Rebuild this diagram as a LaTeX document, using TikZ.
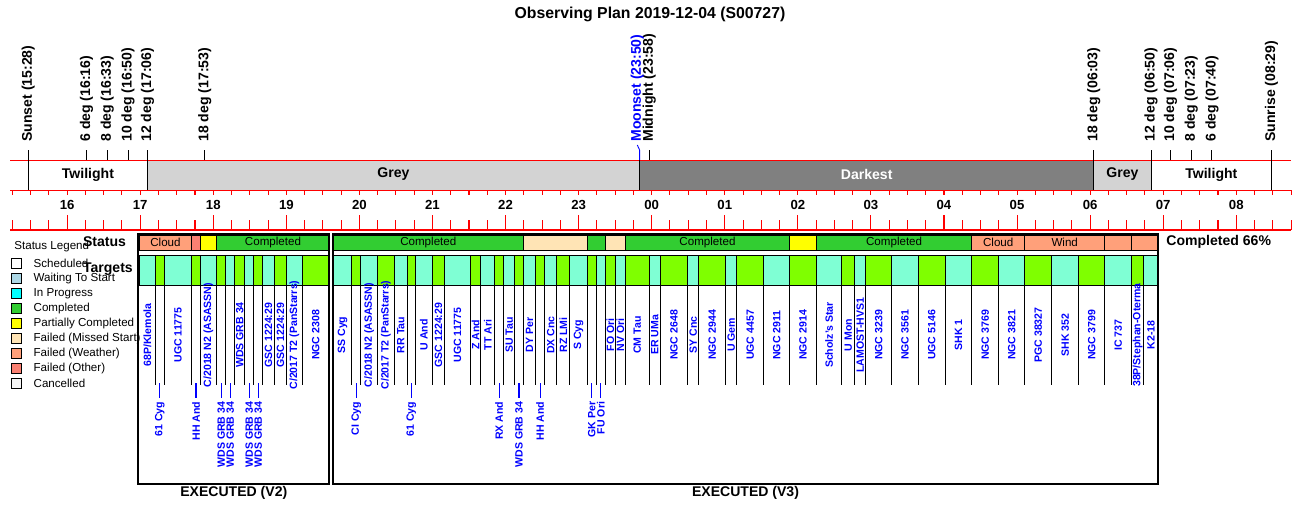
\documentclass[tikz,border=0pt]{standalone}
\usepackage{fontspec}
\usepackage{tikz}
\setmainfont{Liberation Sans}
\definecolor{greyband}{HTML}{D3D3D3}
\definecolor{darkband}{HTML}{808080}
\definecolor{stdone}{HTML}{32CD32}
\definecolor{stpart}{HTML}{FFFF00}
\definecolor{stmiss}{HTML}{FFE4B5}
\definecolor{stwx}{HTML}{FFA07A}
\definecolor{stoth}{HTML}{FA8072}
\definecolor{stwait}{HTML}{ADD8E6}
\definecolor{stprog}{HTML}{00FFFF}
\definecolor{stcanc}{HTML}{F5F5F5}
\definecolor{tgtaqua}{HTML}{7FFFD4}
\definecolor{tgtlime}{HTML}{7FFF00}
\tikzset{plantitle/.style = {inner sep=0pt, font=\bfseries\fontsize{9}{11}\selectfont}}
\tikzset{evlabel/.style = {rotate=90, anchor=west, inner sep=0pt,
                           font=\bfseries\fontsize{8}{9}\selectfont}}
\tikzset{bandlabel/.style = {inner sep=0pt, font=\bfseries\fontsize{8}{9}\selectfont}}
\tikzset{hourlabel/.style = {inner sep=0pt, font=\bfseries\fontsize{7.5}{9}\selectfont}}
\tikzset{rowhead/.style = {anchor=west, inner sep=0pt,
                           font=\bfseries\fontsize{8}{9}\selectfont}}
\tikzset{smalltext/.style = {inner sep=0pt, font=\fontsize{6.6}{8}\selectfont}}
\tikzset{tgtlabel/.style = {rotate=90, inner sep=0pt, blue,
                            font=\bfseries\fontsize{6}{7}\selectfont}}
\tikzset{redline/.style = {red, line width=0.6pt}}
\tikzset{thinline/.style = {black, line width=0.5pt}}
\tikzset{frameline/.style = {black, line width=1.3pt}}
\begin{document}
\begin{tikzpicture}[x=0.02cm, y=-0.02cm]
    \useasboundingbox (0, 0) rectangle (1300, 514);
    \node (title) at (650, 14.5) [plantitle] {Observing Plan 2019-12-04 (S00727)};
    \fill [greyband] (147.5, 160.3) rectangle (639.6, 190.3);
    \fill [darkband] (639.6, 160.3) rectangle (1093.8, 190.3);
    \fill [greyband] (1093.8, 160.3) rectangle (1151.0, 190.3);
    \node (twilight1) at (87.9, 174.5) [bandlabel] {Twilight};
    \node (grey1) at (393.5, 174.5) [bandlabel] {Grey};
    \node (darkest) at (866.7, 174.5) [bandlabel, white] {Darkest};
    \node (grey2) at (1122.4, 174.5) [bandlabel] {Grey};
    \node (twilight2) at (1211.3, 174.5) [bandlabel] {Twilight};
    \foreach \y in {160.3, 190.3, 230} {
        \draw [redline] (10, \y) -- (1291, \y);
    }
    \foreach \q in {61, ..., 131} {
        \pgfmathsetmacro{\qx}{18.2675*\q-1102}
        \pgfmathsetmacro{\qy}{mod(\q, 4) == 0 ? 215 : 220}
        \draw [redline] (\qx, 190.3) -- (\qx, 195.3);
        \draw [redline] (\qx, \qy) -- (\qx, 230);
    }
    \foreach \h/\lab in {16/16, 17/17, 18/18, 19/19, 20/20, 21/21, 22/22, 23/23, 24/00,
                         25/01, 26/02, 27/03, 28/04, 29/05, 30/06, 31/07, 32/08} {
        \node (hour\h) at ({73.07*\h-1102}, 204.5) [hourlabel] {\lab};
    }
    \foreach \t/\lab/\lo [count=\i] in {15.467/Sunset (15:28)/190.3, 16.267/6 deg (16:16)/160.3,
                                        16.55/8 deg (16:33)/160.3, 16.833/10 deg (16:50)/160.3,
                                        17.1/12 deg (17:06)/190.3, 17.883/18 deg (17:53)/160.3,
                                        23.967/Midnight (23:58)/160.3, 30.05/18 deg (06:03)/190.3,
                                        30.833/12 deg (06:50)/190.3, 31.1/10 deg (07:06)/160.3,
                                        31.383/8 deg (07:23)/160.3, 31.667/6 deg (07:40)/160.3,
                                        32.483/Sunrise (08:29)/190.3} {
        \draw [thinline] ({73.07*\t-1102}, 150) -- ({73.07*\t-1102}, \lo);
        \node (event\i) at ({73.07*\t-1102}, 142) [evlabel] {\lab};
    }
    \draw [blue, line width=0.5pt] (637.3, 145) -- (639.6, 150) -- (639.6, 160.3);
    \draw [thinline] (639.6, 160.3) -- (639.6, 190.3);
    \node (moonset) at (637.3, 142) [evlabel, blue] {Moonset (23:50)};
    \node (legendhead) at (14, 246) [smalltext, anchor=west] {Status Legend};
    \foreach \col/\lab [count=\i] in {white/Scheduled, stwait/Waiting To Start, stprog/In Progress,
                                      stdone/Completed, stpart/Partially Completed,
                                      stmiss/Failed (Missed Start), stwx/Failed (Weather),
                                      stoth/Failed (Other), stcanc/Cancelled} {
        \draw [thinline, fill=\col] (11.7, {243.3+15*\i}) rectangle (21.7, {253.3+15*\i});
        \node (legend\i) at (33.3, {248.3+15*\i}) [smalltext, anchor=west] {\lab};
    }
    \node (statushead) at (82.7, 241.7) [rowhead] {Status};
    \node (targethead) at (82.7, 269.3) [rowhead] {Targets};
    \foreach \a/\b/\col/\lab [count=\i] in {139.3/191.7/stwx/Cloud, 191.7/200.3/stoth/{},
                                            200.3/216.7/stpart/{}, 216.7/329.3/stdone/Completed,
                                            333.3/523.3/stdone/Completed, 523.3/587.3/stmiss/{},
                                            587.3/605.3/stdone/{}, 605.3/625.3/stmiss/{},
                                            625.3/789.7/stdone/Completed, 789.7/816.5/stpart/{},
                                            816.5/971.7/stdone/Completed, 971.7/1024.7/stwx/Cloud,
                                            1024.7/1104.7/stwx/Wind, 1104.7/1131.7/stwx/{},
                                            1131.7/1158.3/stwx/{}} {
        \draw [thinline, fill=\col] (\a, 235.3) rectangle (\b, 250.3);
        \node (status\i) at ({(\a+\b)/2}, 242.8) [smalltext] {\lab};
    }
    \foreach \a/\b/\lab/\low [count=\i] in {139.3/155.3/{68P/Klemola}/0, 155.3/164.3/61 Cyg/1,
            164.3/191.7/UGC 11775/0, 191.7/200.3/HH And/1, 200.3/216.7/{C/2018 N2 (ASASSN)}/0,
            216.7/225.7/WDS GRB 34/1, 225.7/234.7/WDS GRB 34/1, 234.7/244.7/WDS GRB 34/0,
            244.7/253.7/WDS GRB 34/1, 253.7/262.7/WDS GRB 34/1, 262.7/274.3/GSC 1224:29/0,
            274.3/286.7/GSC 1224:29/0, 286.7/302.3/{C/2017 T2 (PanStarrs)}/0, 302.3/329.3/NGC 2308/0,
            333.3/351.7/SS Cyg/0, 351.7/360.7/CI Cyg/1, 360.7/377.7/{C/2018 N2 (ASASSN)}/0,
            377.7/394.3/{C/2017 T2 (PanStarrs)}/0, 394.3/407.3/RR Tau/0, 407.3/415.3/61 Cyg/1,
            415.3/432.3/U And/0, 432.3/444.7/GSC 1224:29/0, 444.7/470.3/UGC 11775/0,
            470.3/480.7/Z And/0, 480.7/494.7/TT Ari/0, 494.7/503.7/RX And/1, 503.7/514.7/SU Tau/0,
            514.7/523.3/WDS GRB 34/1, 523.3/535.7/DY Per/0, 535.7/544.7/HH And/1,
            544.7/556.7/DX Cnc/0, 556.7/569.7/RZ LMi/0, 569.7/587.3/S Cyg/0, 587.3/596.3/GK Per/1,
            596.3/605.3/FU Ori/1, 605.3/615.3/FO Ori/0, 615.3/625.3/NV Ori/0, 625.3/649.3/CM Tau/0,
            649.3/660.3/ER UMa/0, 660.3/687.7/NGC 2648/0, 687.7/698.7/SY Cnc/0,
            698.7/725.7/NGC 2944/0, 725.7/736.7/U Gem/0, 736.7/763.7/UGC 4457/0,
            763.7/789.7/NGC 2911/0, 789.7/816.5/NGC 2914/0, 816.5/841.7/Scholz's Star/0,
            841.7/854.7/U Mon/0, 854.7/865.7/LAMOST-HVS1/0, 865.7/891.7/NGC 3239/0,
            891.7/918.3/NGC 3561/0, 918.3/945.3/UGC 5146/0, 945.3/971.7/SHK 1/0,
            971.7/998.7/NGC 3769/0, 998.7/1024.7/NGC 3821/0, 1024.7/1051.7/PGC 38327/0,
            1051.7/1078.7/SHK 352/0, 1078.7/1104.7/NGC 3799/0, 1104.7/1131.7/IC 737/0,
            1131.7/1143.7/{38P/Stephan-Oterma}/0, 1143.7/1158.3/K2-18/0} {
        \ifodd\i \def\col{tgtaqua}\else \def\col{tgtlime}\fi
        \draw [thinline, fill=\col] (\a, 255.3) rectangle (\b, 285.3);
        \draw [thinline] (\b, 285.3) -- (\b, 385.3);
        \ifnum\low=1
            \draw [blue, line width=0.6pt] ({(\a+\b)/2}, 383) -- ({(\a+\b)/2}, 397.5);
            \node (target\i) at ({(\a+\b)/2}, 401.5) [tgtlabel, anchor=east] {\lab};
        \else
            \node (target\i) at ({(\a+\b)/2}, 335) [tgtlabel] {\lab};
        \fi
    }
    \draw [frameline] (138.3, 234.3) rectangle (329.3, 484);
    \draw [frameline] (332.7, 234.3) rectangle (1158.3, 484);
    \node (execv2) at (233.8, 493) [rowhead, anchor=center] {EXECUTED (V2)};
    \node (execv3) at (745.5, 493) [rowhead, anchor=center] {EXECUTED (V3)};
    \node (donepct) at (1166, 242.3) [rowhead] {Completed 66\%};
  \end{tikzpicture}
\end{document}
